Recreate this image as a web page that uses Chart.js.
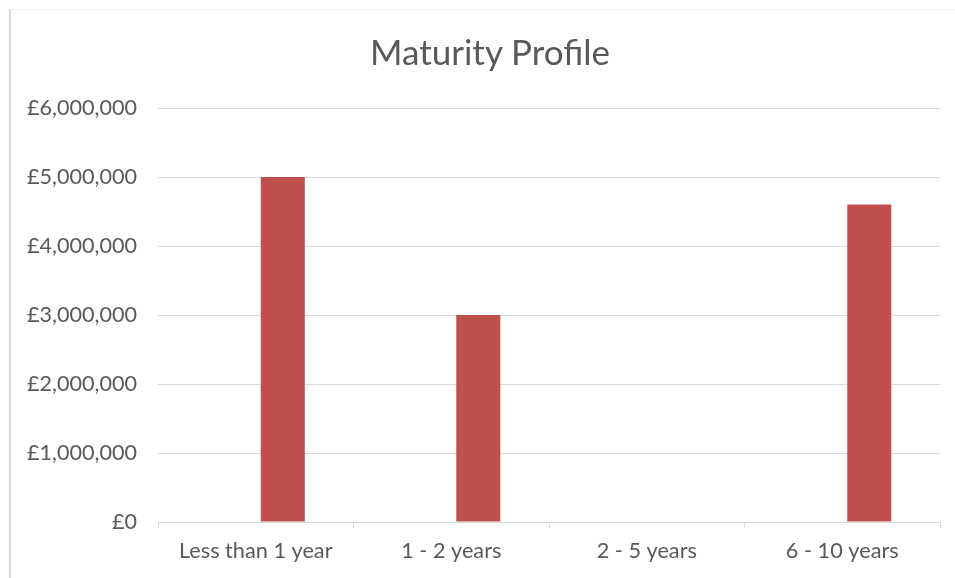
<!DOCTYPE html>
<html>
<head>
<meta charset="utf-8">
<script src="https://cdn.jsdelivr.net/npm/chart.js@4"></script>
<style>
  html, body { margin: 0; padding: 0; background: #fff; overflow: hidden; }
  #wrap { position: relative; width: 955px; height: 578px; overflow: hidden; }
  #frame { position: absolute; left: 9px; top: 9px; right: -2px; bottom: -2px;
           border-left: 2px solid #d9d9d9; border-top: 1px solid #f4f4f4; }
  #title { position: absolute; left: 0; top: 30px; width: 980px; text-align: center;
           font: 35px Lato, "Liberation Sans", sans-serif; line-height: 42px; color: #595959; }
  canvas { position: absolute; left: 0; top: 0; }
</style>
</head>
<body>
<div id="wrap">
  <div id="frame"></div>
  <canvas id="myChart" width="955" height="578"></canvas>
  <div id="title">Maturity Profile</div>
</div>
<script>
// maturity buckets and amounts (GBP)
const categories = ['Less than 1 year', '1 - 2 years', '2 - 5 years', '6 - 10 years'];
// the source chart keeps an empty first series, so the red bars sit right of centre
const emptySeries = [null, null, null, null];
const amounts = [5000000, 3000000, 0, 4600000];
const yMax = 6000000;
const yStep = 1000000;

const textColor = '#595959';
const gridColor = '#d9d9d9';
const fontFamily = 'Lato, "Liberation Sans", sans-serif';

const chartData = {
  labels: categories,
  datasets: [{
    label: '',
    data: emptySeries,
    backgroundColor: 'rgba(0,0,0,0)',
    categoryPercentage: 0.553,
    barPercentage: 0.815
  }, {
    label: 'Maturity Profile',
    backgroundColor: '#c0504d',
    borderWidth: 0,
    data: amounts,
    categoryPercentage: 0.553,
    barPercentage: 0.815
  }]
};

const config = {
  type: 'bar',
  data: chartData,
  options: {
    responsive: false,
    animation: false,
    layout: { padding: { left: 0, right: 15, top: 108, bottom: 0 } },
    plugins: {
      legend: { display: false },
      tooltip: { enabled: false },
      title: { display: false }
    },
    scales: {
      x: {
        grid: {
          drawOnChartArea: false,
          drawTicks: true,
          tickLength: 6,
          color: gridColor,
          lineWidth: 1
        },
        border: { display: true, color: gridColor, width: 1 },
        ticks: {
          color: textColor,
          font: { family: fontFamily, size: 21.7 },
          padding: 10,
          maxRotation: 0
        },
        afterFit: function (scale) { scale.height = 56; }
      },
      y: {
        min: 0,
        max: yMax,
        grid: { color: gridColor, lineWidth: 1, drawTicks: false },
        border: { display: false },
        ticks: {
          stepSize: yStep,
          color: textColor,
          font: { family: fontFamily, size: 21.6 },
          padding: 21,
          callback: function (v) { return '£' + v.toLocaleString('en-GB'); }
        },
        afterFit: function (scale) { scale.width = 158; }
      }
    }
  }
};

const ctx = document.getElementById('myChart').getContext('2d');
const myChart = new Chart(ctx, config);
</script>
</body>
</html>
